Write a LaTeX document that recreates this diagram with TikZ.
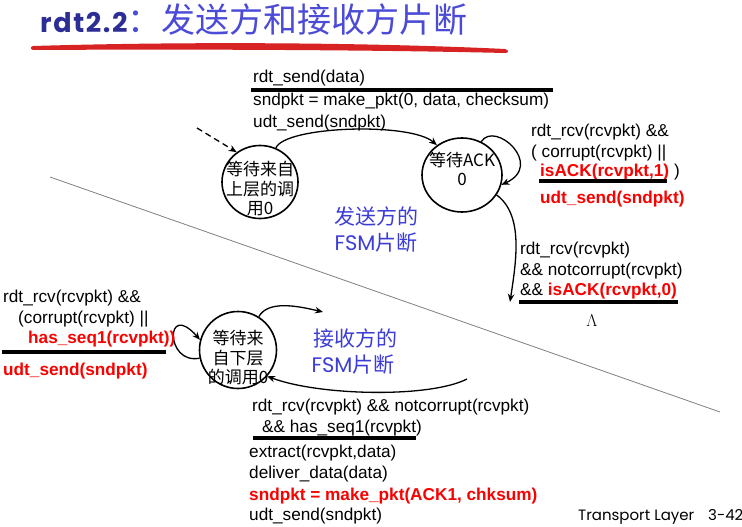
\documentclass[tikz,border=0pt]{standalone}
\usepackage{fontspec}
\setmainfont{Liberation Sans}
\newfontfamily\cjk{Noto Sans CJK SC}
\newfontfamily\geo{Poppins}
\newfontfamily\geotitle[LetterSpace=6]{Poppins}
\usetikzlibrary{arrows.meta,shapes.geometric}
\definecolor{fsmblue}{RGB}{60,60,215}
\definecolor{titlenavy}{RGB}{45,45,150}
\definecolor{titleblue}{RGB}{75,75,215}
\definecolor{slidered}{RGB}{250,0,0}
\definecolor{brushred}{RGB}{215,35,35}
\begin{document}
\begin{tikzpicture}[x=1pt,y=-1pt,
  txt/.style={anchor=base west, inner sep=0pt, font=\fontsize{17.2}{20}\selectfont},
  rtxt/.style={anchor=base west, inner sep=0pt, text=slidered, font=\fontsize{17.2}{20}\selectfont\bfseries},
  uline/.style={line width=3.2pt},
  statebox/.style={draw, ellipse, line width=1.6pt, inner sep=0pt},
  statetext/.style={align=center, inner sep=0pt, font=\cjk\fontsize{17}{19.5}\selectfont},
  fsmlbl/.style={inner sep=0pt, text=fsmblue, font=\cjk\fontsize{21}{24}\selectfont},
  arr/.style={-{Stealth[length=8pt,width=6.5pt]}, line width=1.3pt},
  divider/.style={draw=gray, line width=0.8pt}]
\fill[white] (0,0) rectangle (742,527);
\useasboundingbox (0,0) rectangle (742,527);

% title
\node[anchor=base west, inner sep=0pt] (title) at (40,33)
  {{\geotitle\bfseries\fontsize{27}{30}\selectfont\color{titlenavy}rdt2.2}{\cjk\fontsize{34}{36}\selectfont\color{titleblue}：发送方和接收方片断}};
\fill[brushred] (33,46) .. controls (200,41) and (380,43) .. (505,49)
  .. controls (509,50) and (509,53) .. (505,53)
  .. controls (380,50) and (200,49) .. (33,50)
  .. controls (30,49) and (30,47) .. (33,46) -- cycle;

% divider
\draw[divider] (50,177) -- (720,412);

% states
\node[statebox, minimum width=76pt, minimum height=73pt] (s1) at (260,182) {};
\node[statetext] (s1t) at (260,189) {等待来自\\上层的调\\用0};
\node[statebox, minimum width=80pt, minimum height=74pt] (s2) at (462,175) {};
\node[statetext] (s2t) at (462,169) {等待ACK\\0};
\node[statebox, minimum width=77pt, minimum height=77pt] (r) at (238,350) {};
\node[statetext] (rt) at (238,358) {等待来\\自下层\\的调用0};

% connectors
\coordinate (dstart) at (197,128);
\draw[arr, dashed, dash pattern=on 6pt off 4pt] (dstart) -- (s1.128);
\draw[arr] (s1.65) .. controls (285,126) and (410,122) .. (s2.130);
\draw[arr] (s2.60) .. controls (495,120) and (545,165) .. (s2.-14);
\coordinate (s2out) at (510,302);
\draw[arr] (s2.-30) .. controls (524,215) and (516,262) .. (s2out);
\draw[arr] (r.192) .. controls (165,365) and (165,300) .. (r.165);
\coordinate (rout) at (323,312);
\draw[arr] (r.58) .. controls (268,300) and (298,306) .. (rout);
\coordinate (rin) at (467,379);
\draw[arr] (rin) .. controls (430,398) and (320,396) .. (r.-42);

% FSM labels
\node[fsmlbl] (sl1) at (376,216) {发送方的};
\node[fsmlbl] (sl2) at (376,243) {{\geo FSM}片断};
\node[fsmlbl] (rl1) at (355,338) {接收方的};
\node[fsmlbl] (rl2) at (353,365) {{\geo FSM}片断};

% sender top transition
\node[txt] (a1) at (253,82) {rdt\_send(data)};
\draw[uline] (251,90) -- (553,90);
\node[txt] (a2) at (253,106) {sndpkt = make\_pkt(0, data, checksum)};
\node[txt] (a3) at (253,127) {udt\_send(sndpkt)};

% sender self loop label
\node[txt] (b1) at (531,136) {rdt\_rcv(rcvpkt) \&\&};
\node[txt] (b2) at (531,157) {( corrupt(rcvpkt) ||};
\node[txt] (b3) at (540,176) {{\color{slidered}\bfseries isACK(rcvpkt,1)}\ )};
\draw[uline] (539,181) -- (667,181);
\node[rtxt] (b4) at (540,203) {udt\_send(sndpkt)};

% sender downward label
\node[txt] (c1) at (520,254) {rdt\_rcv(rcvpkt)};
\node[txt] (c2) at (520,275) {\&\& notcorrupt(rcvpkt)};
\node[txt] (c3) at (520,295) {\&\& {\color{slidered}\bfseries isACK(rcvpkt,0)}};
\draw[uline] (519,302) -- (678,302);
\node[inner sep=0pt, font=\fontsize{16}{18}\selectfont] (lam) at (592,321) {$\Lambda$};

% receiver self loop label
\node[txt] (d1) at (3,302) {rdt\_rcv(rcvpkt) \&\&};
\node[txt] (d2) at (18,323) {(corrupt(rcvpkt) ||};
\node[rtxt] (d3) at (28,343) {has\_seq1(rcvpkt))};
\draw[uline] (2,352) -- (166,352);
\node[rtxt] (d4) at (3,375) {udt\_send(sndpkt)};

% receiver bottom label
\node[txt] (e1) at (252,411) {rdt\_rcv(rcvpkt) \&\& notcorrupt(rcvpkt)};
\node[txt] (e2) at (262,432) {\&\& has\_seq1(rcvpkt)};
\draw[uline] (253,438) -- (416,438);
\node[txt] (e3) at (249,457) {extract(rcvpkt,data)};
\node[txt] (e4) at (249,478) {deliver\_data(data)};
\node[rtxt] (e5) at (249,500) {sndpkt = make\_pkt(ACK1, chksum)};
\node[txt] (e6) at (249,520) {udt\_send(sndpkt)};

% footer
\node[anchor=base west, inner sep=0pt, font=\geo\fontsize{15}{17}\selectfont] (foot1) at (578,520) {Transport Layer};
\node[anchor=base west, inner sep=0pt, font=\geo\fontsize{15}{17}\selectfont] (foot2) at (708,520) {3-42};
\end{tikzpicture}
\end{document}
